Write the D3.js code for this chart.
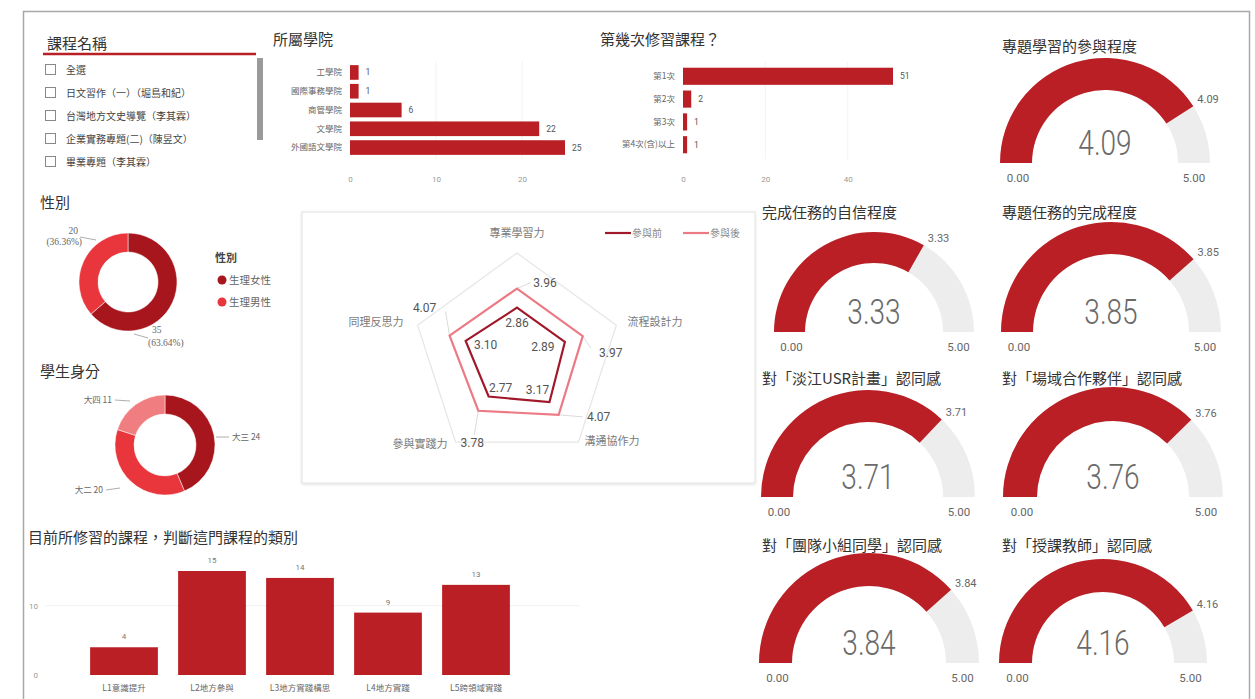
<!DOCTYPE html>
<html>
<head>
<meta charset="utf-8">
<script src="https://cdn.jsdelivr.net/npm/d3@7"></script>
<style>
    body { margin: 0; background: #fff; }
    svg { font-family: "Noto Sans CJK TC", "Noto Sans", sans-serif; }
    .num { font-family: Roboto, "Noto Sans", sans-serif; }
    .serif { font-family: "Liberation Serif", "DejaVu Serif", serif; }
</style>
</head>
<body>
<svg id="chart" width="1255" height="699"></svg>
<script>
// --- Data ---
const courseNames = ['全選', '日文習作（一）（堀島和紀）', '台灣地方文史導覽（李其霖）', '企業實務專題(二)（陳昱文）', '畢業專題（李其霖）'];

const colleges = ['工學院', '國際事務學院', '商管學院', '文學院', '外國語文學院'];
const collegeCounts = [1, 1, 6, 22, 25];

const attempts = ['第1次', '第2次', '第3次', '第4次(含)以上'];
const attemptCounts = [51, 2, 1, 1];

const genders = ['生理女性', '生理男性'];
const genderCounts = [35, 20];

const grades = ['大三', '大二', '大四'];
const gradeCounts = [24, 20, 11];

const radarAxes = ['專業學習力', '流程設計力', '溝通協作力', '參與實踐力', '同理反思力'];
const radarBefore = [2.86, 2.89, 3.17, 2.77, 3.10];
const radarAfter = [3.96, 3.97, 4.07, 3.78, 4.07];

const courseTypes = ['L1意識提升', 'L2地方參與', 'L3地方實踐構思', 'L4地方實踐', 'L5跨領域實踐'];
const courseTypeCounts = [4, 15, 14, 9, 13];

const gaugeTitles = ['專題學習的參與程度', '完成任務的自信程度', '專題任務的完成程度', '對「淡江USR計畫」認同感', '對「場域合作夥伴」認同感', '對「團隊小組同學」認同感', '對「授課教師」認同感'];
const gaugeValues = [4.09, 3.33, 3.85, 3.71, 3.76, 3.84, 4.16];
const gaugeMax = 5;

// --- Style ---
const colors = {
    bar: '#b91f24',
    dark: '#a8161d',
    bright: '#e8363c',
    pink: '#f07d80',
    track: '#ededed',
    title: '#333',
    text: '#666',
    before: '#a0182a',
    after: '#ec7a85'
};

const svg = d3.select('#chart');

// Outer frame
svg.append('rect')
    .attr('x', 23.5).attr('y', 11.5)
    .attr('width', 1226).attr('height', 720)
    .attr('fill', 'none').attr('stroke', '#a8a8a8').attr('stroke-width', 1.5);

function title(x, y, text, size = 15) {
    svg.append('text').attr('x', x).attr('y', y)
        .attr('font-size', size).attr('fill', colors.title).text(text);
}

// --- Slicer ---
title(47, 49, '課程名稱');
svg.append('line').attr('x1', 43).attr('x2', 256).attr('y1', 54).attr('y2', 54)
    .attr('stroke', colors.bar).attr('stroke-width', 2.5);
svg.append('rect').attr('x', 257).attr('y', 58).attr('width', 6).attr('height', 82).attr('fill', '#9a9a9a');

const slicerY = d3.scalePoint().domain(courseNames).range([70, 162]);
const slicer = svg.append('g').selectAll('g').data(courseNames).join('g')
    .attr('transform', d => `translate(0,${slicerY(d)})`);
slicer.append('rect').attr('x', 45.5).attr('y', -5.5).attr('width', 10).attr('height', 10)
    .attr('fill', '#fff').attr('stroke', '#888');
slicer.append('text').attr('x', 66).attr('y', 4).attr('font-size', 10).attr('fill', '#444').text(d => d);

// --- Horizontal bar charts ---
function hBar(cats, vals, opts) {
    const x = d3.scaleLinear().domain([0, opts.max]).range([opts.x0, opts.x1]);
    const y = d3.scaleBand().domain(cats).range([opts.y0, opts.y1]).padding(opts.pad);
    const g = svg.append('g');

    g.append('g').selectAll('line').data(opts.ticks.slice(1)).join('line')
        .attr('x1', d => x(d)).attr('x2', d => x(d))
        .attr('y1', opts.y0).attr('y2', opts.y1)
        .attr('stroke', '#f3f3f3');

    g.append('g').selectAll('rect').data(vals).join('rect')
        .attr('x', x(0)).attr('y', (d, i) => y(cats[i]))
        .attr('width', d => x(d) - x(0)).attr('height', y.bandwidth())
        .attr('fill', colors.bar);

    g.append('g').selectAll('text').data(vals).join('text')
        .attr('x', d => x(d) + 7).attr('y', (d, i) => y(cats[i]) + y.bandwidth() / 2 + 3)
        .attr('class', 'num').attr('font-size', 8.5).attr('fill', '#555').text(d => d);

    const yAxis = g.append('g').attr('transform', `translate(${x(0)},0)`)
        .call(d3.axisLeft(y).tickSize(0).tickPadding(8));
    yAxis.select('.domain').remove();
    yAxis.selectAll('text').attr('font-size', 8.5).attr('fill', colors.text).attr('font-family', 'Noto Sans CJK TC');

    const xAxis = g.append('g').attr('transform', `translate(0,${opts.y1 + 14})`)
        .call(d3.axisBottom(x).tickValues(opts.ticks).tickSize(0));
    xAxis.select('.domain').remove();
    xAxis.selectAll('text').attr('font-size', 8).attr('fill', '#999').attr('font-family', 'Roboto');
}

title(273, 45, '所屬學院');
hBar(colleges, collegeCounts, { max: 25, x0: 350, x1: 565, y0: 61, y1: 159, pad: 0.22, ticks: [0, 10, 20] });

title(600, 45, '第幾次修習課程？');
hBar(attempts, attemptCounts, { max: 51, x0: 683, x1: 893, y0: 62, y1: 159, pad: 0.25, ticks: [0, 20, 40] });

// --- Donuts ---
function donut(cats, vals, fills, cx, cy, ro, ri) {
    const pie = d3.pie().sort(null)(vals);
    const arc = d3.arc().innerRadius(ri).outerRadius(ro);
    svg.append('g').attr('transform', `translate(${cx},${cy})`)
        .selectAll('path').data(pie).join('path')
        .attr('d', arc).attr('fill', (d, i) => fills[i])
        .attr('stroke', '#fff').attr('stroke-width', 0.5);
}

function leader(x1, y1, x2, y2, c = '#999') {
    svg.append('line').attr('x1', x1).attr('y1', y1).attr('x2', x2).attr('y2', y2)
        .attr('stroke', c).attr('stroke-width', 0.8);
}

function label(x, y, text, anchor = 'start', size = 9, cls = null) {
    svg.append('text').attr('x', x).attr('y', y).attr('text-anchor', anchor)
        .attr('class', cls).attr('font-size', size).attr('fill', colors.text).text(text);
}

title(40, 208, '性別');
donut(genders, genderCounts, [colors.dark, colors.bright], 128, 282, 49, 30);
const genderTotal = d3.sum(genderCounts);
const pct = v => `(${(v / genderTotal * 100).toFixed(2)}%)`;
label(78, 234, genderCounts[1], 'end', 9.5, 'serif');
label(82, 245, pct(genderCounts[1]), 'end', 9.5, 'serif');
leader(80, 237, 96, 240);
label(152, 333, genderCounts[0], 'start', 9.5, 'serif');
label(148, 346, pct(genderCounts[0]), 'start', 9.5, 'serif');
leader(134, 334, 148, 338);

// legend
svg.append('text').attr('x', 215).attr('y', 262).attr('font-size', 11).attr('font-weight', 'bold')
    .attr('fill', '#444').text('性別');
const legend = svg.append('g').selectAll('g').data(genders).join('g')
    .attr('transform', (d, i) => `translate(222,${280 + i * 22})`);
legend.append('circle').attr('r', 4.5).attr('fill', (d, i) => [colors.dark, colors.bright][i]);
legend.append('text').attr('x', 7).attr('y', 4).attr('font-size', 10.5).attr('fill', colors.text).text(d => d);

title(40, 377, '學生身分');
donut(grades, gradeCounts, [colors.dark, colors.bright, colors.pink], 165, 445, 50, 31);
label(112, 403, `${grades[2]} ${gradeCounts[2]}`, 'end', 8.5);
leader(115, 400, 130, 401);
label(232, 440, `${grades[0]} ${gradeCounts[0]}`, 'start', 8.5);
leader(216, 437, 229, 437);
label(103, 493, `${grades[1]} ${gradeCounts[1]}`, 'end', 8.5);
leader(106, 490, 120, 488);

// --- Radar ---
const defs = svg.append('defs');
const shadow = defs.append('filter').attr('id', 'shadow').attr('x', '-5%').attr('y', '-5%').attr('width', '110%').attr('height', '110%');
shadow.append('feDropShadow').attr('dx', 0).attr('dy', 1).attr('stdDeviation', 1.5).attr('flood-color', '#000').attr('flood-opacity', 0.12);

svg.append('rect').attr('x', 302).attr('y', 212).attr('width', 453).attr('height', 271)
    .attr('fill', '#fff').attr('stroke', '#e2e2e2').attr('filter', 'url(#shadow)');

const rcx = 517, rcy = 357.5, rR = 104.5;
const rScale = d3.scaleLinear().domain([0, 6]).range([0, rR]);
const angle = i => i * 2 * Math.PI / radarAxes.length;
const pt = (i, r) => [rcx + r * Math.sin(angle(i)), rcy - r * Math.cos(angle(i))];

const radar = svg.append('g');
radar.append('path')
    .attr('d', d3.line()(radarAxes.map((d, i) => pt(i, rR))) + 'Z')
    .attr('fill', 'none').attr('stroke', '#e6e6e6').attr('stroke-width', 1.2);

// leader lines for the outer value labels
const afterOffset = [[28, -2], [28, 21], [40, 6], [-6, 36], [-25, -24]];
const beforeOffset = [[0, 19], [-22, 9], [-12, -8], [12, -5], [20, 8]];
const afterLead = [[14, -6], [8, 12], [24, 2], [-4, 24], [-4, -24]];
radarAfter.forEach((d, i) => {
    const [vx, vy] = pt(i, rScale(d));
    radar.append('line').attr('x1', vx).attr('y1', vy)
        .attr('x2', vx + afterLead[i][0]).attr('y2', vy + afterLead[i][1])
        .attr('stroke', '#d0d0d0').attr('stroke-width', 0.8);
});

const radarLine = d3.lineRadial().angle((d, i) => angle(i)).radius(d => rScale(d)).curve(d3.curveLinearClosed);
[[radarAfter, colors.after], [radarBefore, colors.before]].forEach(([vals, c]) => {
    radar.append('path').attr('transform', `translate(${rcx},${rcy})`)
        .attr('d', radarLine(vals)).attr('fill', 'none').attr('stroke', c).attr('stroke-width', 2.2);
});

// axis names
const axisLabelPos = [[0, -121], [138, -32], [95, 87], [-97, 90], [-141, -32]];
radar.selectAll('.axis-name').data(radarAxes).join('text')
    .attr('x', (d, i) => rcx + axisLabelPos[i][0]).attr('y', (d, i) => rcy + axisLabelPos[i][1])
    .attr('text-anchor', 'middle').attr('font-size', 11).attr('fill', '#7a7a7a').text(d => d);

// value labels (offsets from each vertex)
[[radarAfter, afterOffset], [radarBefore, beforeOffset]].forEach(([vals, off]) => {
    radar.append('g').selectAll('text').data(vals).join('text')
        .attr('x', (d, i) => pt(i, rScale(d))[0] + off[i][0])
        .attr('y', (d, i) => pt(i, rScale(d))[1] + off[i][1])
        .attr('text-anchor', 'middle').attr('class', 'num')
        .attr('font-size', 12).attr('fill', '#555').text(d => d.toFixed(2));
});

// radar legend
[['參與前', colors.before, 605], ['參與後', colors.after, 683]].forEach(([t, c, x]) => {
    radar.append('line').attr('x1', x).attr('x2', x + 26).attr('y1', 233).attr('y2', 233)
        .attr('stroke', c).attr('stroke-width', 2.2);
    radar.append('text').attr('x', x + 27).attr('y', 237).attr('font-size', 10).attr('fill', '#888').text(t);
});

// --- Vertical bar chart ---
title(28, 543, '目前所修習的課程，判斷這門課程的類別');
const bx = d3.scaleBand().domain(courseTypes).range([80, 520]).paddingInner(0.23).paddingOuter(0.115);
const by = d3.scaleLinear().domain([0, 15]).range([675, 571]);
const bars = svg.append('g');
bars.append('line').attr('x1', 45).attr('x2', 580).attr('y1', by(10)).attr('y2', by(10)).attr('stroke', '#f1f1f1');
bars.selectAll('rect').data(courseTypeCounts).join('rect')
    .attr('x', (d, i) => bx(courseTypes[i])).attr('y', d => by(d))
    .attr('width', bx.bandwidth()).attr('height', d => by(0) - by(d))
    .attr('fill', colors.bar);
bars.selectAll('.val').data(courseTypeCounts).join('text')
    .attr('x', (d, i) => bx(courseTypes[i]) + bx.bandwidth() / 2).attr('y', d => by(d) - 8)
    .attr('text-anchor', 'middle').attr('class', 'num').attr('font-size', 8).attr('fill', '#777').text(d => d);

const bxAxis = bars.append('g').attr('transform', `translate(0,${by(0) + 4})`)
    .call(d3.axisBottom(bx).tickSize(0).tickPadding(6));
bxAxis.select('.domain').remove();
bxAxis.selectAll('text').attr('font-size', 8.5).attr('fill', colors.text).attr('font-family', 'Noto Sans CJK TC');

const byAxis = bars.append('g').attr('transform', 'translate(40,0)')
    .call(d3.axisLeft(by).tickValues([0, 10]).tickSize(0).tickPadding(2));
byAxis.select('.domain').remove();
byAxis.selectAll('text').attr('font-size', 8).attr('fill', '#999').attr('font-family', 'Roboto');

// --- Gauges ---
const gaugeLayout = [
    { cx: 1105, cy: 163, ro: 105, ri: 73, tx: 1002, ty: 52 },
    { cx: 874, cy: 332, ro: 100, ri: 69, tx: 762, ty: 218 },
    { cx: 1111, cy: 332, ro: 110, ri: 78, tx: 1002, ty: 218 },
    { cx: 868, cy: 497, ro: 107, ri: 75, tx: 762, ty: 384 },
    { cx: 1113, cy: 497, ro: 110, ri: 76, tx: 1002, ty: 384 },
    { cx: 869, cy: 663, ro: 110, ri: 77, tx: 762, ty: 551 },
    { cx: 1103, cy: 663, ro: 104, ri: 71, tx: 1002, ty: 551 }
];

const gAngle = d3.scaleLinear().domain([0, gaugeMax]).range([-Math.PI / 2, Math.PI / 2]);

gaugeValues.forEach((v, i) => {
    const L = gaugeLayout[i];
    title(L.tx, L.ty, gaugeTitles[i]);
    const g = svg.append('g').attr('transform', `translate(${L.cx},${L.cy})`);
    const arc = d3.arc().innerRadius(L.ri).outerRadius(L.ro);
    g.append('path').attr('d', arc({ startAngle: gAngle(0), endAngle: gAngle(gaugeMax) })).attr('fill', colors.track);
    g.append('path').attr('d', arc({ startAngle: gAngle(0), endAngle: gAngle(v) })).attr('fill', colors.bar);

    // narrow, light centre value
    g.append('text').attr('transform', 'translate(0,-8) scale(0.8,1)').attr('text-anchor', 'middle').attr('class', 'num')
        .attr('font-size', 35).attr('font-weight', 300).attr('fill', '#6a6a6a').text(v.toFixed(2));

    const mid = (L.ro + L.ri) / 2;
    g.append('text').attr('x', -mid + 2).attr('y', 19).attr('text-anchor', 'middle').attr('class', 'num')
        .attr('font-size', 11.5).attr('fill', '#666').text((0).toFixed(2));
    g.append('text').attr('x', mid).attr('y', 19).attr('text-anchor', 'middle').attr('class', 'num')
        .attr('font-size', 11.5).attr('fill', '#666').text(gaugeMax.toFixed(2));

    const a = gAngle(v);
    g.append('text').attr('x', L.ro * Math.sin(a) + 4).attr('y', -L.ro * Math.cos(a) - 3)
        .attr('class', 'num').attr('font-size', 11).attr('fill', '#666').text(v.toFixed(2));
});
</script>
</body>
</html>
